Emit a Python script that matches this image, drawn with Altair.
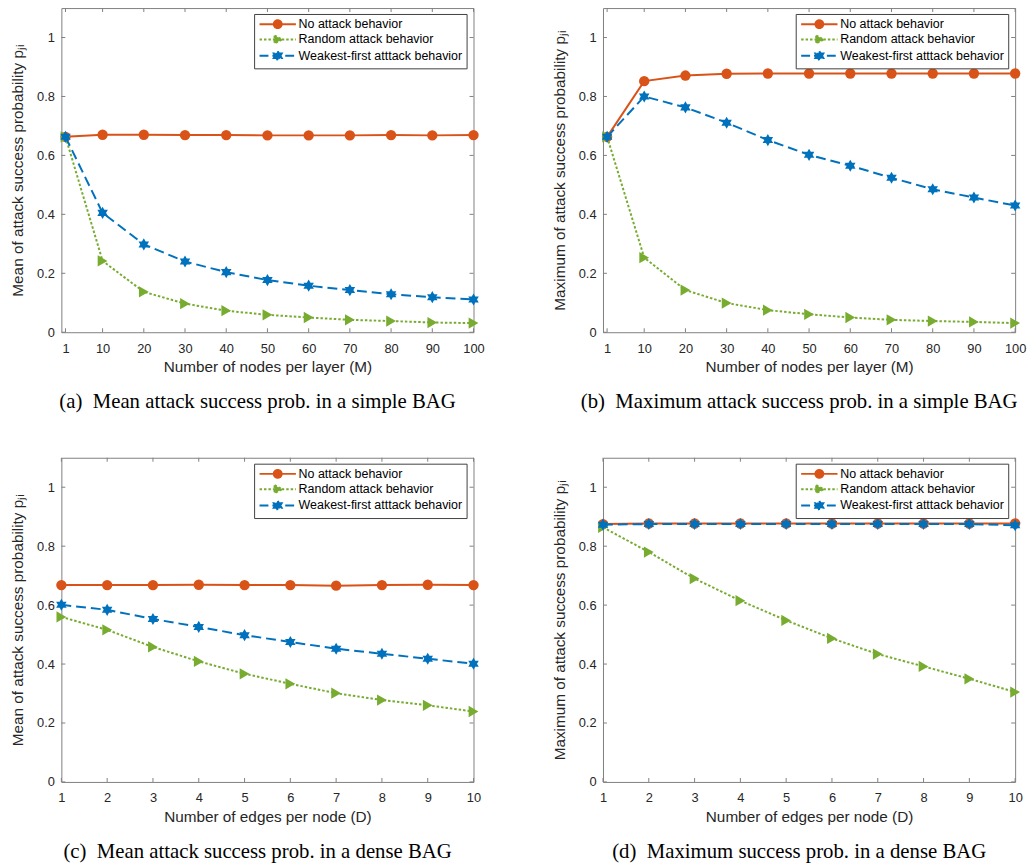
import math
import altair as alt
import pandas as pd

SERIES = ["No attack behavior", "Random attack behavior", "Weakest-first atttack behavior"]
COLORS = ["#D95319", "#77AC30", "#0072BD"]

M_VALUES = [1, 10, 20, 30, 40, 50, 60, 70, 80, 90, 100]
D_VALUES = [1, 2, 3, 4, 5, 6, 7, 8, 9, 10]
Y_TICKS = [0, 0.2, 0.4, 0.6, 0.8, 1.0]

# (a) mean, simple BAG
A_NONE = [0.663, 0.670, 0.670, 0.669, 0.669, 0.668, 0.668, 0.668, 0.669, 0.668, 0.669]
A_RAND = [0.663, 0.242, 0.137, 0.097, 0.073, 0.059, 0.050, 0.042, 0.038, 0.033, 0.031]
A_WEAK = [0.663, 0.405, 0.298, 0.240, 0.204, 0.177, 0.158, 0.143, 0.129, 0.119, 0.111]
# (b) maximum, simple BAG
B_NONE = [0.663, 0.852, 0.871, 0.877, 0.878, 0.878, 0.878, 0.878, 0.878, 0.878, 0.878]
B_RAND = [0.663, 0.253, 0.143, 0.099, 0.075, 0.061, 0.050, 0.042, 0.038, 0.035, 0.031]
B_WEAK = [0.663, 0.800, 0.763, 0.711, 0.652, 0.602, 0.565, 0.524, 0.485, 0.457, 0.430]
# (c) mean, dense BAG
C_NONE = [0.668, 0.668, 0.668, 0.669, 0.668, 0.668, 0.666, 0.668, 0.669, 0.668]
C_RAND = [0.560, 0.516, 0.458, 0.409, 0.367, 0.333, 0.301, 0.278, 0.260, 0.239]
C_WEAK = [0.601, 0.584, 0.553, 0.526, 0.498, 0.475, 0.452, 0.435, 0.418, 0.401]
# (d) maximum, dense BAG
D_NONE = [0.875, 0.877, 0.877, 0.877, 0.877, 0.877, 0.877, 0.877, 0.877, 0.877]
D_RAND = [0.864, 0.780, 0.690, 0.615, 0.548, 0.487, 0.434, 0.392, 0.350, 0.305]
D_WEAK = [0.873, 0.875, 0.875, 0.875, 0.875, 0.875, 0.875, 0.875, 0.875, 0.871]

HEXAGRAM = "M0,-1L0.866,0.5L-0.866,0.5ZM0,1L-0.866,-0.5L0.866,-0.5Z"
MARKERS = ["circle", "triangle-right", HEXAGRAM]
MARKER_SIZES = [110, 130, 150]
DASHES = [None, [2.5, 2], [10, 5]]

# legend glyphs: a line segment with the marker on it (unit coordinates)
L = 4.6
_circ = "M" + "L".join(f"{math.cos(2 * math.pi * k / 20):.3f},{math.sin(2 * math.pi * k / 20):.3f}"
                       for k in range(20)) + "Z"
LEGEND_PATHS = [
    f"M-{L},0L{L},0" + _circ,
    f"M-{L},0L{L},0M-0.8,-1L1.1,0L-0.8,1Z",
    f"M-{L},0L{L},0M0,-1.15L1,0.58L-1,0.58ZM0,1.15L-1,-0.58L1,-0.58Z",
]
LEGEND_DASHES = [[1, 0], [2.5, 2], [9, 4]]

W, H = 417, 328
TICK_LEN = 4
FRAME = "#808080"
TXT = "#262626"


def panel(xvals, values, xdomain, xticks, xtitle, ytitle, caption):
    xscale = alt.Scale(domain=xdomain, nice=False, zero=False)
    yscale = alt.Scale(domain=[0, 1.1], nice=False)
    xaxis = alt.Axis(values=xticks, title=xtitle, ticks=False, domain=False, grid=False,
                     labelPadding=10, titlePadding=5, format="d", labelOverlap=False,
                     labelFlush=False)
    yaxis = alt.Axis(values=Y_TICKS, title=ytitle, ticks=False, domain=False, grid=False,
                     labelPadding=7, titlePadding=11, format="~g", labelOverlap=False)

    xt = pd.DataFrame({"t": xticks})
    yt = pd.DataFrame({"t": Y_TICKS})
    layers = [
        alt.Chart(xt).mark_rule(color=FRAME, strokeWidth=1).encode(
            x=alt.X("t:Q", scale=xscale, axis=xaxis), y=alt.value(H), y2=alt.value(H - TICK_LEN)),
        alt.Chart(xt).mark_rule(color=FRAME, strokeWidth=1).encode(
            x=alt.X("t:Q", scale=xscale, axis=xaxis), y=alt.value(0), y2=alt.value(TICK_LEN)),
        alt.Chart(yt).mark_rule(color=FRAME, strokeWidth=1).encode(
            y=alt.Y("t:Q", scale=yscale, axis=yaxis), x=alt.value(0), x2=alt.value(TICK_LEN)),
        alt.Chart(yt).mark_rule(color=FRAME, strokeWidth=1).encode(
            y=alt.Y("t:Q", scale=yscale, axis=yaxis), x=alt.value(W), x2=alt.value(W - TICK_LEN)),
    ]
    for vals, color, dash, shape, size in zip(values, COLORS, DASHES, MARKERS, MARKER_SIZES):
        df = pd.DataFrame({"x": xvals, "y": vals})
        kw = dict(color=color, strokeWidth=2,
                  point=alt.OverlayMarkDef(shape=shape, filled=True, size=size, color=color, opacity=1))
        if dash:
            kw["strokeDash"] = dash
        layers.append(alt.Chart(df).mark_line(**kw).encode(
            x=alt.X("x:Q", scale=xscale, axis=xaxis),
            y=alt.Y("y:Q", scale=yscale, axis=yaxis)))

    legend = alt.Legend(title=None, orient="none", legendX=195, legendY=6,
                        symbolSize=64, symbolStrokeWidth=2, symbolOffset=13.6,
                        labelOffset=14.8, padding=4, rowPadding=-1.5,
                        labelFont="Liberation Sans", labelFontSize=12.6, labelColor="black",
                        labelLimit=400, strokeColor="#404040", fillColor="white",
                        cornerRadius=0)
    leg_df = pd.DataFrame({"s": SERIES})
    layers.append(
        alt.Chart(leg_df).transform_filter("false").mark_point(filled=True, strokeWidth=2, opacity=1).encode(
            fill=alt.Fill("s:N", scale=alt.Scale(domain=SERIES, range=COLORS), legend=legend),
            stroke=alt.Stroke("s:N", scale=alt.Scale(domain=SERIES, range=COLORS), legend=legend),
            shape=alt.Shape("s:N", scale=alt.Scale(domain=SERIES, range=LEGEND_PATHS), legend=legend),
            strokeDash=alt.StrokeDash("s:N", scale=alt.Scale(domain=SERIES, range=LEGEND_DASHES), legend=legend),
        ))

    return alt.layer(*layers).properties(
        width=W, height=H,
        title=alt.TitleParams(caption, orient="bottom", font="Liberation Serif", fontSize=21,
                              fontWeight="normal", color="black", frame="group", anchor="middle",
                              dx=-10, offset=16, baseline="top"),
    )


YT_MEAN = "Mean of attack success probability p\u2c7c\u1d62"
YT_MAX = "Maximum of attack success probability p\u2c7c\u1d62"
XT_M = "Number of nodes per layer (M)"
XT_D = "Number of edges per node (D)"

pa = panel(M_VALUES, [A_NONE, A_RAND, A_WEAK], [0, 100], M_VALUES, XT_M, YT_MEAN,
           "(a)\u2002Mean attack success prob. in a simple BAG")
pb = panel(M_VALUES, [B_NONE, B_RAND, B_WEAK], [0, 100], M_VALUES, XT_M, YT_MAX,
           "(b)\u2002Maximum attack success prob. in a simple BAG")
pc = panel(D_VALUES, [C_NONE, C_RAND, C_WEAK], [1, 10], D_VALUES, XT_D, YT_MEAN,
           "(c)\u2002Mean attack success prob. in a dense BAG")
pdd = panel(D_VALUES, [D_NONE, D_RAND, D_WEAK], [1, 10], D_VALUES, XT_D, YT_MAX,
            "(d)\u2002Maximum success prob. in a dense BAG")

chart = alt.concat(pa, pb, pc, pdd, columns=2,
                   spacing=alt.RowColnumber(row=45, column=67)).resolve_scale(
    x="independent", y="independent", fill="independent", stroke="independent",
    shape="independent", strokeDash="independent").resolve_legend(
    fill="independent", stroke="independent", shape="independent", strokeDash="independent"
).properties(
    padding={"left": 2, "top": -6, "right": 0, "bottom": 0}
).configure_view(
    stroke=FRAME, strokeWidth=1
).configure_axis(
    labelFont="Liberation Sans", labelFontSize=13, labelColor=TXT,
    titleFont="Liberation Sans", titleFontSize=15.5, titleColor=TXT, titleFontWeight="normal",
)

chart.save("out.html", embed_options={"renderer": "svg", "actions": False})
